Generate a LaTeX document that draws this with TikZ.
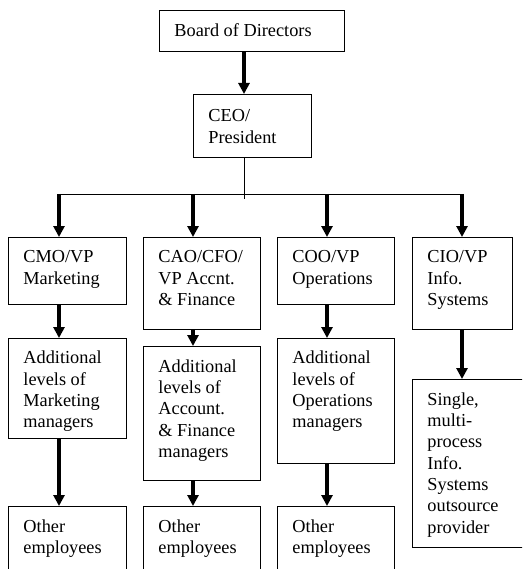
\documentclass[tikz,border=0pt]{standalone}
\usepackage{fontspec}
\setmainfont{Liberation Serif}
\usetikzlibrary{arrows.meta}
\newcommand\boxtext[4][10.6pt]{\parbox[c][#3][t]{#2}{\fontsize{18.3}{21.3}\selectfont\raggedright\leftskip=15pt\relax\parindent=0pt\vspace*{#1}\strut #4}}
\tikzset{
  bx/.style={draw, line width=0.9pt, inner sep=0pt, anchor=north west},
  arr/.style={line width=3.5pt, -{Triangle[width=11pt,length=11pt]}},
  thinline/.style={line width=0.9pt}
}
\begin{document}
\begin{tikzpicture}[x=1pt,y=-1pt]
\useasboundingbox (0,0) rectangle (522,569);
\fill[white] (0,0) rectangle (522,569);
\clip (0,0) rectangle (522,569);
\node[bx] (board) at (159,10) {\boxtext[11pt]{185pt}{41pt}{Board of Directors}};
\node[bx] (ceo) at (193,94) {\boxtext[12.5pt]{118pt}{63pt}{CEO/\\President}};
\node[bx] (cmo) at (8,237) {\boxtext{118pt}{67pt}{CMO/VP\\Marketing}};
\node[bx] (cao) at (143,237) {\boxtext{117pt}{92pt}{CAO/CFO/\\VP Accnt.\\\& Finance}};
\node[bx] (coo) at (277,237) {\boxtext{117pt}{67pt}{COO/VP\\Operations}};
\node[bx] (cio) at (412,237) {\boxtext{100pt}{92pt}{CIO/VP\\Info.\\Systems}};
\node[bx] (addm) at (8,338) {\boxtext{118pt}{100pt}{Additional\\levels of\\Marketing\\managers}};
\node[bx] (adda) at (143,346) {\boxtext[11pt]{117pt}{134pt}{Additional\\levels of\\Account.\\\& Finance\\managers}};
\node[bx] (addo) at (277,338) {\boxtext{117pt}{125pt}{Additional\\levels of\\Operations\\managers}};
\node[bx] (single) at (412,379) {\boxtext[11pt]{130pt}{168pt}{Single,\\multi-\\process\\Info.\\Systems\\outsource\\provider}};
\node[bx] (othm) at (8,506) {\boxtext[11pt]{118pt}{80pt}{Other\\employees}};
\node[bx] (otha) at (143,506) {\boxtext[11pt]{117pt}{80pt}{Other\\employees}};
\node[bx] (otho) at (277,506) {\boxtext[11pt]{117pt}{80pt}{Other\\employees}};
\coordinate (t) at (244,199);
\coordinate (c1) at (59,194);
\coordinate (c2) at (193,194);
\coordinate (c3) at (327,194);
\coordinate (c4) at (462,194);
\draw[arr] (t |- board.south) -- (t |- ceo.north);
\draw[thinline] (t |- ceo.south) -- (t);
\draw[thinline] (c1) -- (c4);
\draw[arr] (c1) -- (c1 |- cmo.north);
\draw[arr] (c2) -- (c2 |- cao.north);
\draw[arr] (c3) -- (c3 |- coo.north);
\draw[arr] (c4) -- (c4 |- cio.north);
\draw[arr] (c1 |- cmo.south) -- (c1 |- addm.north);
\draw[arr] (c2 |- cao.south) -- (c2 |- adda.north);
\draw[arr] (c3 |- coo.south) -- (c3 |- addo.north);
\draw[arr] (c4 |- cio.south) -- (c4 |- single.north);
\draw[arr] (c1 |- addm.south) -- (c1 |- othm.north);
\draw[arr] (c2 |- adda.south) -- (c2 |- otha.north);
\draw[arr] (c3 |- addo.south) -- (c3 |- otho.north);
\end{tikzpicture}
\end{document}
